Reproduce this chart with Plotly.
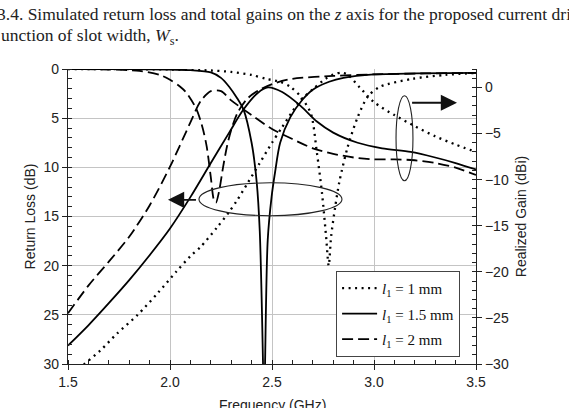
import plotly.graph_objects as go

# ---------------- data ----------------
# Return loss (dB), plotted on left reversed axis
rl_1mm_f = [1.5, 2.0, 2.2, 2.3, 2.4, 2.47, 2.54, 2.59, 2.64, 2.69, 2.72, 2.745, 2.765, 2.778, 2.79, 2.81, 2.83, 2.87, 2.92, 2.97, 3.03, 3.19, 3.35, 3.5]
rl_1mm = [0.0, 0.05, 0.15, 0.3, 0.6, 1.0, 1.3, 1.8, 2.8, 4.5, 8.5, 12.6, 17.0, 20.0, 17.0, 14.0, 11.5, 8.0, 4.9, 2.8, 1.8, 1.0, 0.6, 0.4]

rl_15mm_f = [1.5, 1.8, 2.0, 2.1, 2.2, 2.25, 2.29, 2.33, 2.36, 2.4, 2.425, 2.44, 2.456, 2.461, 2.466, 2.479, 2.498, 2.515, 2.54, 2.59, 2.65, 2.7, 2.78, 2.85, 3.0, 3.2, 3.5]
rl_15mm = [0.0, 0.02, 0.05, 0.12, 0.35, 0.9, 1.8, 3.0, 4.1, 7.5, 11.5, 16.5, 30.0, 37.0, 30.0, 17.4, 13.0, 10.5, 7.5, 4.9, 3.1, 2.1, 1.3, 0.9, 0.55, 0.45, 0.4]

rl_2mm_f = [1.5, 1.7, 1.85, 1.95, 2.0, 2.05, 2.08, 2.13, 2.16, 2.18, 2.2, 2.215, 2.225, 2.24, 2.26, 2.28, 2.3, 2.33, 2.38, 2.44, 2.52, 2.6, 2.8, 3.0, 3.25, 3.5]
rl_2mm = [0.0, 0.05, 0.2, 0.6, 1.1, 1.8, 2.4, 4.1, 6.0, 7.9, 11.0, 13.3, 13.6, 12.5, 10.0, 7.8, 6.2, 4.5, 3.0, 2.1, 1.4, 1.0, 0.7, 0.55, 0.45, 0.4]

# Realized gain (dBi), right axis
g_1mm_f = [1.5, 1.58, 1.66, 1.74, 1.84, 1.94, 2.03, 2.1, 2.15, 2.23, 2.29, 2.33, 2.38, 2.44, 2.5, 2.55, 2.6, 2.64, 2.7, 2.76, 2.8, 2.84, 2.87, 2.93, 3.0, 3.1, 3.2, 3.3, 3.4, 3.5]
g_1mm = [-31.3, -30.0, -28.5, -26.7, -24.7, -22.3, -20.0, -18.3, -17.3, -15.2, -13.5, -12.2, -10.4, -8.2, -6.0, -4.3, -2.6, -1.4, -0.2, 0.9, 1.4, 1.6, 1.4, 0.0, -1.6, -3.0, -4.2, -5.3, -6.2, -7.0]

g_15mm_f = [1.5, 1.6, 1.7, 1.8, 1.9, 2.0, 2.1, 2.2, 2.29, 2.36, 2.43, 2.48, 2.55, 2.64, 2.72, 2.8, 2.92, 3.04, 3.18, 3.3, 3.4, 3.5]
g_15mm = [-28.0, -25.8, -23.4, -20.9, -18.2, -15.3, -11.9, -8.2, -4.9, -2.4, -0.6, 0.0, -0.5, -2.0, -3.7, -4.9, -6.0, -6.6, -7.0, -7.6, -8.2, -8.9]

g_2mm_f = [1.5, 1.6, 1.7, 1.8, 1.9, 2.0, 2.1, 2.15, 2.2, 2.25, 2.3, 2.4, 2.5, 2.6, 2.7, 2.8, 2.9, 3.0, 3.1, 3.2, 3.3, 3.4, 3.5]
g_2mm = [-24.5, -21.5, -18.9, -16.2, -12.8, -8.6, -3.8, -1.5, -0.4, -0.4, -1.4, -3.0, -4.5, -5.6, -6.6, -7.2, -7.6, -7.8, -7.8, -7.9, -8.2, -8.7, -9.5]

legend_names = ["<i>l</i><sub>1</sub> = 1 mm", "<i>l</i><sub>1</sub> = 1.5 mm", "<i>l</i><sub>1</sub> = 2 mm"]
x_ticks = [1.5, 2.0, 2.5, 3.0, 3.5]
x_tick_text = ["1.5", "2.0", "2.5", "3.0", "3.5"]
left_ticks = [0, 5, 10, 15, 20, 25, 30]
right_ticks = [0, -5, -10, -15, -20, -25, -30]

# ---------------- styles ----------------
DOT = "2px,4.5px"
DASH = "11px,5px"
styles = [dict(color="black", width=2.3, dash=DOT),
          dict(color="black", width=1.8, dash="solid"),
          dict(color="black", width=1.8, dash=DASH)]

fig = go.Figure()

rl_sets = [(rl_1mm_f, rl_1mm), (rl_15mm_f, rl_15mm), (rl_2mm_f, rl_2mm)]
g_sets = [(g_1mm_f, g_1mm), (g_15mm_f, g_15mm), (g_2mm_f, g_2mm)]

for i, (fx, fy) in enumerate(rl_sets):
    fig.add_trace(go.Scatter(x=fx, y=fy, mode="lines", name=legend_names[i],
                             legendgroup=f"g{i}",
                             line=dict(shape="spline", smoothing=0.8, **styles[i]),
                             showlegend=True, yaxis="y"))
for i, (fx, fy) in enumerate(g_sets):
    fig.add_trace(go.Scatter(x=fx, y=fy, mode="lines", name=legend_names[i],
                             legendgroup=f"g{i}",
                             line=dict(shape="spline", smoothing=0.8, **styles[i]),
                             showlegend=False, yaxis="y2"))

tick_font = dict(family="Liberation Sans, Arial, sans-serif", size=14, color="#222")
title_font = dict(family="Liberation Sans, Arial, sans-serif", size=14, color="#222")
axis_common = dict(showline=True, linecolor="#222", linewidth=1.3,
                   ticks="outside", ticklen=5, tickcolor="#222", tickwidth=1.3,
                   tickfont=tick_font, zeroline=False, automargin=False)

fig.update_layout(
    width=569, height=408,
    margin=dict(l=68, r=93, t=69, b=44, autoexpand=False),
    paper_bgcolor="white", plot_bgcolor="white",
    font=dict(family="Liberation Sans, Arial, sans-serif", color="#222"),
    xaxis=dict(range=[1.5, 3.5], tickvals=x_ticks, ticktext=x_tick_text,
               showgrid=True, gridcolor="#c4c4c4", gridwidth=1,
               minor=dict(dtick=0.1, ticks="inside", ticklen=4, tickcolor="#222", showgrid=False),
               **axis_common),
    yaxis=dict(range=[30, 0], tickvals=left_ticks,
               showgrid=True, gridcolor="#c4c4c4", gridwidth=1,
               minor=dict(dtick=1, ticks="inside", ticklen=4, tickcolor="#222", showgrid=False),
               title=dict(text="Return Loss (dB)", font=title_font, standoff=4),
               **axis_common),
    yaxis2=dict(range=[-30, 2], tickvals=right_ticks, overlaying="y", side="right",
                showgrid=False,
                minor=dict(dtick=1, ticks="inside", ticklen=4, tickcolor="#222", showgrid=False),
                title=dict(text="Realized Gain (dBi)", font=title_font, standoff=8),
                **axis_common),
    legend=dict(x=0.961, y=0.024, xanchor="right", yanchor="bottom",
                bgcolor="white", bordercolor="#444", borderwidth=1,
                font=dict(family="Liberation Serif, Times New Roman, serif", size=15, color="#111"),
                tracegroupgap=3, itemwidth=35),
    showlegend=True,
)

# x-axis title (sits partly below the page edge, as in the reference)
fig.add_annotation(xref="paper", yref="paper", x=0.5, y=(364 - 405) / 295, xanchor="center", yanchor="middle",
                   text="Frequency (GHz)", showarrow=False, font=title_font)

# ellipses around curve groups
fig.add_shape(type="circle", xref="x", yref="y", x0=2.142, x1=2.843, y0=11.57, y1=14.92,
              line=dict(color="#222", width=1.1))
fig.add_shape(type="circle", xref="x", yref="y", x0=3.108, x1=3.191, y0=2.72, y1=11.36,
              line=dict(color="#222", width=1.1))

# arrows
fig.add_annotation(x=1.99, y=13.3, ax=2.142, ay=13.3, xref="x", yref="y", axref="x", ayref="y",
                   showarrow=True, arrowhead=2, arrowsize=1.8, arrowwidth=1.8, arrowcolor="#111", text=" ")
fig.add_annotation(x=3.407, y=3.43, ax=3.172, ay=3.43, xref="x", yref="y", axref="x", ayref="y",
                   showarrow=True, arrowhead=2, arrowsize=1.8, arrowwidth=1.8, arrowcolor="#111", text=" ")

# caption text from the scanned page
serif = dict(family="Liberation Serif, Times New Roman, serif", size=17.5, color="#222")
fig.add_annotation(xref="paper", yref="paper", x=-73/408, y=1 + (69 - 14) / 295, xanchor="left", yanchor="middle",
                   text="3.4. Simulated return loss and total gains on the <i>z</i> axis for the proposed current dri",
                   showarrow=False, font=serif)
fig.add_annotation(xref="paper", yref="paper", x=-69/408, y=1 + (69 - 37) / 295, xanchor="left", yanchor="middle",
                   text="unction of slot width, <i>W</i><sub>s</sub>.",
                   showarrow=False, font=serif)

fig.write_html("out.html")
